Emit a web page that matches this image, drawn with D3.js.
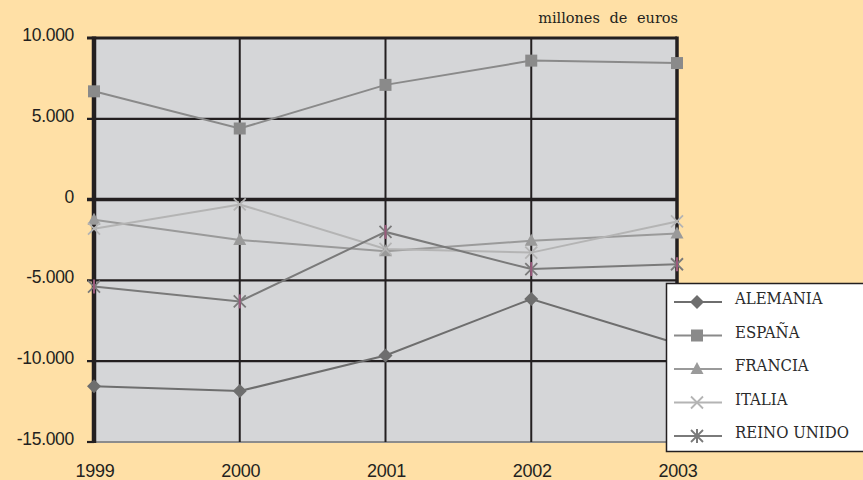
<!DOCTYPE html>
<html><head><meta charset="utf-8">
<script src="https://cdn.jsdelivr.net/npm/d3@7"></script>
<style>html,body{margin:0;padding:0;background:#FFE0A6;overflow:hidden}</style>
</head><body>
<script>
const years = ["1999","2000","2001","2002","2003"];
const alemania = [-11550, -11850, -9650, -6150, -8900];
const espana = [6700, 4400, 7100, 8600, 8450];
const francia = [-1250, -2500, -3200, -2550, -2100];
const italia = [-1800, -300, -3050, -3280, -1350];
const reinoUnido = [-5380, -6300, -2000, -4300, -4000];
const yTicks = [10000, 5000, 0, -5000, -10000, -15000];
const tickLabels = ["10.000","5.000","0","-5.000","-10.000","-15.000"];
const seriesNames = ["ALEMANIA","ESPAÑA","FRANCIA","ITALIA","REINO UNIDO"];
const unitLabel = "millones de euros";

const W = 863, H = 480;
const svg = d3.select("body").append("svg").attr("width", W).attr("height", H);
svg.append("rect").attr("width", W).attr("height", H).attr("fill", "#FFE0A6");

const x = d3.scalePoint().domain(years).range([94, 677]);
const y = d3.scaleLinear().domain([-15000, 10000]).range([442, 38]);

// plot background
svg.append("rect").attr("x", x("1999")).attr("y", y(10000))
  .attr("width", x("2003") - x("1999")).attr("height", y(-15000) - y(10000))
  .attr("fill", "#D5D6D8");

// horizontal gridlines
const gh = svg.append("g");
yTicks.forEach(t => {
  if (t === -15000) return;
  gh.append("line").attr("x1", 87).attr("x2", x("2003"))
    .attr("y1", y(t)).attr("y2", y(t))
    .attr("stroke", "#231F20").attr("stroke-width", t === 0 ? 3.5 : (t === 10000 ? 3 : 2.2));
});
// bottom
svg.append("line").attr("x1", x("1999")).attr("x2", x("2003")).attr("y1", y(-15000)).attr("y2", y(-15000))
  .attr("stroke", "#8C8C8C").attr("stroke-width", 2);
svg.append("line").attr("x1", 87).attr("x2", 94).attr("y1", y(-15000)).attr("y2", y(-15000))
  .attr("stroke", "#231F20").attr("stroke-width", 2.2);
// vertical gridlines
years.slice(1, 4).forEach(yr => {
  svg.append("line").attr("x1", x(yr)).attr("x2", x(yr)).attr("y1", y(10000)).attr("y2", y(-15000))
    .attr("stroke", "#231F20").attr("stroke-width", 2);
});
// left axis & right border
svg.append("line").attr("x1", x("1999")).attr("x2", x("1999")).attr("y1", y(10000) - 1.5).attr("y2", y(-15000) + 1)
  .attr("stroke", "#231F20").attr("stroke-width", 4.5);
svg.append("line").attr("x1", x("2003")).attr("x2", x("2003")).attr("y1", y(10000) - 1.5).attr("y2", y(-15000))
  .attr("stroke", "#231F20").attr("stroke-width", 3.5);

// y tick labels
yTicks.forEach((t, i) => {
  svg.append("text").attr("x", 74).attr("y", y(t) + 3)
    .attr("text-anchor", "end").attr("font-family", "Liberation Sans, Arial, sans-serif")
    .attr("font-size", 17.5).attr("fill", "#231F20").attr("letter-spacing", -0.3)
    .text(tickLabels[i]);
});
// x labels
years.forEach(yr => {
  svg.append("text").attr("x", x(yr) + 1).attr("y", 477)
    .attr("text-anchor", "middle").attr("font-family", "Liberation Sans, Arial, sans-serif")
    .attr("font-size", 18).attr("fill", "#231F20").attr("letter-spacing", -0.3)
    .text(yr);
});
svg.append("text").attr("x", 678).attr("y", 23).attr("text-anchor", "end")
  .attr("font-family", "DejaVu Serif, serif").attr("font-size", 14.5).attr("fill", "#231F20")
  .attr("word-spacing", 5).text(unitLabel);

const series = [
  {name: seriesNames[0], data: alemania, color: "#6E6E6E", marker: "diamond"},
  {name: seriesNames[1], data: espana, color: "#8A8A8A", marker: "square"},
  {name: seriesNames[2], data: francia, color: "#9A9A9A", marker: "triangle"},
  {name: seriesNames[3], data: italia, color: "#B4B4B4", marker: "x"},
  {name: seriesNames[4], data: reinoUnido, color: "#7A7A7A", marker: "star"}
];

function drawMarker(g, type, cx, cy, color, pink) {
  if (type === "diamond") {
    g.append("path").attr("d", `M${cx},${cy-7}L${cx+7},${cy}L${cx},${cy+7}L${cx-7},${cy}Z`).attr("fill", color);
  } else if (type === "square") {
    g.append("rect").attr("x", cx - 6).attr("y", cy - 6).attr("width", 12).attr("height", 12).attr("fill", color);
  } else if (type === "triangle") {
    g.append("path").attr("d", `M${cx},${cy-7}L${cx+6.5},${cy+5}L${cx-6.5},${cy+5}Z`).attr("fill", color);
  } else if (type === "x") {
    g.append("path").attr("d", `M${cx-6},${cy-6}L${cx+6},${cy+6}M${cx+6},${cy-6}L${cx-6},${cy+6}`)
      .attr("stroke", color).attr("stroke-width", 1.8);
  } else if (type === "star") {
    g.append("path").attr("d", `M${cx-6},${cy-6}L${cx+6},${cy+6}M${cx+6},${cy-6}L${cx-6},${cy+6}`)
      .attr("stroke", color).attr("stroke-width", 1.8);
    g.append("path").attr("d", `M${cx},${cy-7}L${cx},${cy+7}`)
      .attr("stroke", pink ? "#9A5A7C" : color).attr("stroke-width", 2);
  }
}

const line = d3.line().x((d, i) => x(years[i])).y(d => y(d));
series.forEach(s => {
  svg.append("path").attr("d", line(s.data)).attr("fill", "none")
    .attr("stroke", s.color).attr("stroke-width", 2);
});
series.forEach(s => {
  const g = svg.append("g");
  s.data.forEach((v, i) => drawMarker(g, s.marker, x(years[i]), y(v), s.color, true));
});

// legend
const lg = svg.append("g");
lg.append("rect").attr("x", 666.5).attr("y", 283.5).attr("width", 210).attr("height", 168)
  .attr("fill", "#FFFFFF").attr("stroke", "#231F20").attr("stroke-width", 1.5);
series.forEach((s, i) => {
  const cy = 302 + i * 33.5;
  lg.append("line").attr("x1", 674).attr("x2", 722).attr("y1", cy).attr("y2", cy)
    .attr("stroke", s.color).attr("stroke-width", 2);
  drawMarker(lg, s.marker, 697, cy, s.color, false);
  lg.append("text").attr("x", 735).attr("y", cy + 2.5)
    .attr("font-family", "DejaVu Serif, serif").attr("font-size", 16.8).attr("fill", "#2A2A2A")
    .attr("transform", `translate(735,0) scale(0.89,1) translate(-735,0)`)
    .text(s.name);
});
</script>
</body></html>
